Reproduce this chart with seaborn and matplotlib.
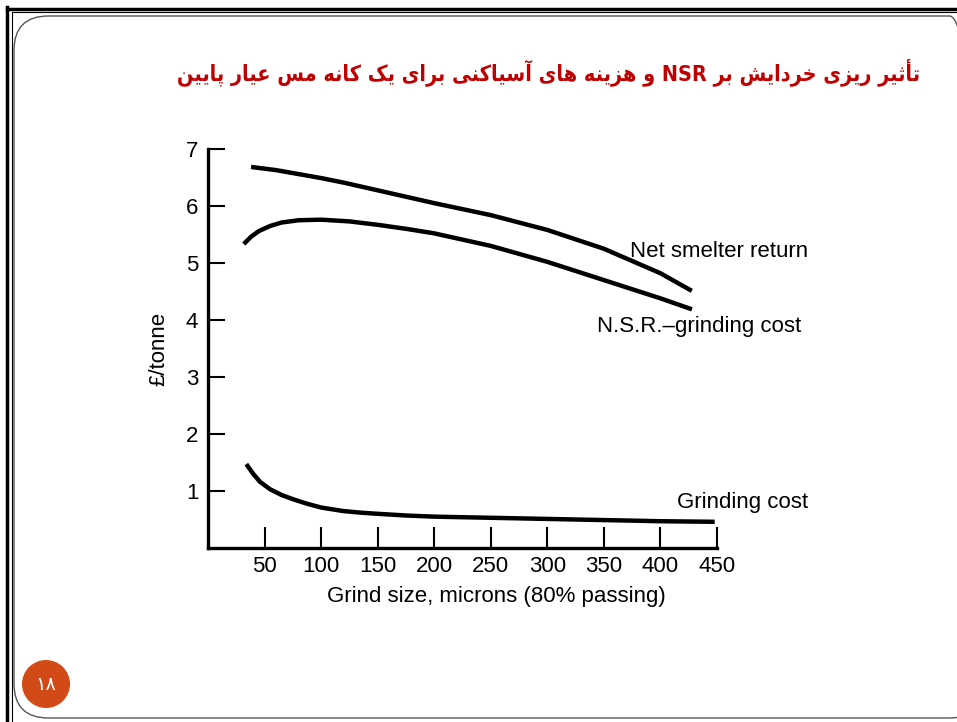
import numpy as np
import pandas as pd
import seaborn as sns
import matplotlib.pyplot as plt
from matplotlib.patches import FancyBboxPatch, Ellipse
from matplotlib.lines import Line2D

# Datos
nsr_x = [40, 60, 80, 100, 120, 140, 160, 180, 200, 250, 300, 350, 400, 426]
nsr_y = [6.68, 6.63, 6.56, 6.49, 6.41, 6.32, 6.23, 6.14, 6.05, 5.84, 5.58, 5.25, 4.82, 4.53]

neto_x = [33, 38, 45, 55, 65, 80, 100, 125, 150, 175, 200, 250, 300, 350, 400, 426]
neto_y = [5.36, 5.46, 5.56, 5.65, 5.71, 5.75, 5.76, 5.73, 5.67, 5.60, 5.52, 5.30, 5.02, 4.70, 4.38, 4.20]

mol_x = [35, 40, 46, 55, 65, 76, 87, 100, 119, 135, 150, 175, 200, 250, 300, 350, 400, 446]
mol_y = [1.44, 1.30, 1.16, 1.03, 0.93, 0.85, 0.78, 0.71, 0.65, 0.62, 0.60, 0.57, 0.55, 0.53,
         0.51, 0.49, 0.47, 0.46]

x_ticks = [50, 100, 150, 200, 250, 300, 350, 400, 450]
y_ticks = [1, 2, 3, 4, 5, 6, 7]

titulo = "تأثیر ریزی خردایش بر NSR و هزینه های آسیاکنی برای یک کانه مس عیار پایین"
pagina = "۱۸"

# Formas de presentación árabes: aislada, final, inicial, medial
formas = {
    "ا": ("\uFE8D", "\uFE8E", None, None),
    "أ": ("\uFE83", "\uFE84", None, None),
    "آ": ("\uFE81", "\uFE82", None, None),
    "ب": ("\uFE8F", "\uFE90", "\uFE91", "\uFE92"),
    "ت": ("\uFE95", "\uFE96", "\uFE97", "\uFE98"),
    "ث": ("\uFE99", "\uFE9A", "\uFE9B", "\uFE9C"),
    "خ": ("\uFEA5", "\uFEA6", "\uFEA7", "\uFEA8"),
    "د": ("\uFEA9", "\uFEAA", None, None),
    "ر": ("\uFEAD", "\uFEAE", None, None),
    "ز": ("\uFEAF", "\uFEB0", None, None),
    "س": ("\uFEB1", "\uFEB2", "\uFEB3", "\uFEB4"),
    "ش": ("\uFEB5", "\uFEB6", "\uFEB7", "\uFEB8"),
    "ع": ("\uFEC9", "\uFECA", "\uFECB", "\uFECC"),
    "م": ("\uFEE1", "\uFEE2", "\uFEE3", "\uFEE4"),
    "ن": ("\uFEE5", "\uFEE6", "\uFEE7", "\uFEE8"),
    "ه": ("\uFEE9", "\uFEEA", "\uFEEB", "\uFEEC"),
    "و": ("\uFEED", "\uFEEE", None, None),
    "پ": ("\uFB56", "\uFB57", "\uFB58", "\uFB59"),
    "ک": ("\uFB8E", "\uFB8F", "\uFB90", "\uFB91"),
    "ی": ("\uFBFC", "\uFBFD", "\uFBFE", "\uFBFF"),
}


def dar_forma(palabra):
    if not any(c in formas for c in palabra):
        return palabra
    res = []
    for i, c in enumerate(palabra):
        f = formas[c]
        prev = palabra[i - 1] if i > 0 else None
        nxt = palabra[i + 1] if i + 1 < len(palabra) else None
        une_prev = prev is not None and formas[prev][2] is not None
        une_sig = nxt is not None and f[2] is not None
        if une_prev and une_sig:
            res.append(f[3])
        elif une_prev:
            res.append(f[1])
        elif une_sig:
            res.append(f[2])
        else:
            res.append(f[0])
    return "".join(res)[::-1]


titulo_visual = " ".join(dar_forma(p) for p in reversed(titulo.split(" ")))

# Figura
fig = plt.figure(figsize=(9.57, 7.22), dpi=100)
fig.patch.set_facecolor("white")

# Marco de la diapositiva
fig.add_artist(Line2D([7.5 / 957, 7.5 / 957], [0, 1 - 7 / 722], color="black", lw=2.5))
fig.add_artist(Line2D([7.5 / 957, 1], [1 - 8.5 / 722, 1 - 8.5 / 722], color="black", lw=2.5))
fig.add_artist(Line2D([11.5 / 957, 11.5 / 957], [0, 1 - 11.5 / 722], color="black", lw=0.8))
fig.add_artist(Line2D([11.5 / 957, 1], [1 - 11.5 / 722, 1 - 11.5 / 722], color="black", lw=0.8))
marco = FancyBboxPatch((14 / 957, 4 / 722), 970 / 957, 702 / 722,
                       boxstyle="round,pad=0,rounding_size=0.036",
                       transform=fig.transFigure, fill=False, ec="#555555", lw=1.0,
                       mutation_aspect=957 / 722)
fig.add_artist(marco)

fig.text(920 / 957, 1 - 72 / 722, titulo_visual, ha="right", va="center",
         fontsize=15.5, fontweight="bold", fontstretch="condensed", color="#C00000",
         family=["DejaVu Sans"])

# Número de página
fig.add_artist(Ellipse((46 / 957, 1 - 684 / 722), 48 / 957, 48 / 722,
                       transform=fig.transFigure, fc="#D24A17", ec="none"))
fig.text(46 / 957, 1 - 685 / 722, pagina, ha="center", va="center", fontsize=14,
         color="white", family=["DejaVu Sans"])

# Gráfico
ax = fig.add_axes([208 / 957, 174 / 722, 509 / 957, 399 / 722])
for xs, ys in [(nsr_x, nsr_y), (neto_x, neto_y), (mol_x, mol_y)]:
    df = pd.DataFrame({"x": xs, "y": ys})
    sns.lineplot(x="x", y="y", data=df, ax=ax, color="black", lw=3.2, sort=False)

fuente = "Liberation Sans"
ax.set_xlim(0, 450)
ax.set_ylim(0, 7)
ax.set_xticks(x_ticks)
ax.set_yticks(y_ticks)
ax.set_xticklabels([str(v) for v in x_ticks], fontsize=16, family=fuente)
ax.set_yticklabels([str(v) for v in y_ticks], fontsize=16, family=fuente)
ax.tick_params(axis="x", direction="in", length=15, width=1.5, pad=6)
ax.tick_params(axis="y", direction="in", length=12, width=1.5, pad=7)
for s in ["top", "right"]:
    ax.spines[s].set_visible(False)
for s in ["left", "bottom"]:
    ax.spines[s].set_linewidth(2.4)
ax.set_facecolor("none")
ax.set_xlabel("Grind size, microns (80% passing)", fontsize=16, family=fuente)
ax.xaxis.set_label_coords(0.566, -0.095)
ax.set_ylabel("£/tonne", fontsize=16, family=fuente, labelpad=12)

ax.text(373, 5.2, "Net smelter return", fontsize=16, family=fuente, va="center", ha="left")
ax.text(344, 3.88, "N.S.R.\u2013grinding cost", fontsize=16, family=fuente,
        va="center", ha="left")
ax.text(415, 0.79, "Grinding cost", fontsize=16, family=fuente, va="center", ha="left")

fig.savefig("out.png", dpi=100)
